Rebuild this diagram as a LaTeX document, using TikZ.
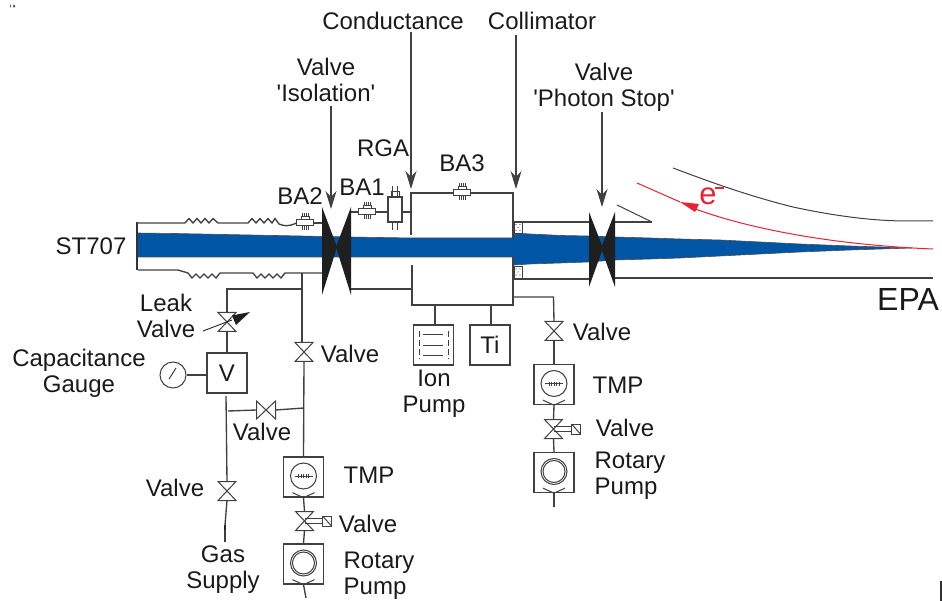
\documentclass[tikz,border=0pt]{standalone}
\usepackage{fontspec}
\setmainfont{Liberation Sans}
\newfontfamily\rawf{Liberation Sans}
\usetikzlibrary{arrows.meta}
\definecolor{ln}{HTML}{404040}
\definecolor{beam}{HTML}{0055A5}
\definecolor{redl}{HTML}{EE2030}
\definecolor{txt}{HTML}{1A1A1A}
\tikzset{
 gl/.style={draw=ln,line width=1.35pt},
 thin gl/.style={draw=ln,line width=1pt},
 lab/.style={font=\fontsize{24}{24}\selectfont,text=txt,inner sep=0pt,align=center},
 boxn/.style={gl,fill=white,minimum size=40pt,inner sep=0pt,font=\fontsize{24}{24}\selectfont,text=txt},
 hold/.style={inner sep=0pt,outer sep=0pt,minimum width=18pt,minimum height=19pt},
 hhold/.style={inner sep=0pt,outer sep=0pt,minimum width=19pt,minimum height=18pt},
 gauge/.style={inner sep=0pt,outer sep=0pt,minimum width=17pt,minimum height=6pt},
 dn/.style={-{Stealth[length=18pt,width=11pt]},gl},
 blacktri/.style={fill=black!88,draw=none},
 dotbox/.style={draw=ln,line width=.6pt,fill=white},
}
% vertical-flow valve, open bow tie
\newcommand\VV[2]{\node[hold] (#1) at (#2) {};
 \draw[thin gl] (#1.north west)--(#1.south east)--(#1.south west)--(#1.north east)--cycle;}
% horizontal-flow valve
\newcommand\HV[2]{\node[hhold] (#1) at (#2) {};
 \draw[thin gl] (#1.north west)--(#1.south east)--(#1.north east)--(#1.south west)--cycle;}
% valve with actuator
\newcommand\AV[2]{\VV{#1}{#2}
 \draw[thin gl] ([yshift=2.5pt]#1.center)--++(18,0) ([yshift=-2.5pt]#1.center)--++(18,0);
 \draw[thin gl,fill=white] ([xshift=18pt,yshift=-5pt]#1.center) rectangle ([xshift=27pt,yshift=5pt]#1.center);
 \draw[thin gl] ([xshift=18pt,yshift=5pt]#1.center)--([xshift=27pt,yshift=-5pt]#1.center);}
% ion gauge
\newcommand\BA[2]{\node[gauge] (#1) at (#2) {};
 \draw[thin gl,fill=white] (#1.south west) rectangle (#1.north east);
 \draw[thin gl] ([xshift=-4pt]#1.north) rectangle ([xshift=4pt,yshift=3pt]#1.north);
 \foreach \dx in {-3,-1,1,3} {\draw[draw=ln,line width=.7pt] ([xshift=\dx pt]#1.south)--++(0,4);
  \draw[draw=ln,line width=.7pt] ([xshift=\dx pt,yshift=3pt]#1.north)--++(0,-4);}}
\newcommand\TMP[2]{\node[boxn] (#1) at (#2) {};
 \draw[thin gl] ([yshift=1pt]#1.center) circle (13pt);
 \draw[thin gl] ([xshift=-9pt,yshift=1pt]#1.center)--([xshift=9pt,yshift=1pt]#1.center);
 \foreach \dx in {-5,-2.5,0,2.5,5} \draw[draw=ln,line width=.8pt] ([xshift=\dx pt,yshift=3pt]#1.center)--++(0,4);
 \draw[thin gl] ([xshift=-11pt,yshift=5pt]#1.south)--(#1.south)--([xshift=11pt,yshift=5pt]#1.south);}
\newcommand\ROT[2]{\node[boxn] (#1) at (#2) {};
 \draw[thin gl] ([yshift=1pt]#1.center) circle (13pt);
 \draw[thin gl] ([yshift=1pt]#1.center) circle (11pt);
 \draw[thin gl] ([xshift=-11pt,yshift=5pt]#1.south)--(#1.south)--([xshift=11pt,yshift=5pt]#1.south);}
\begin{document}
\begin{tikzpicture}[x=1pt,y=-1pt]
\useasboundingbox (0,0) rectangle (942,601);

% stray marks of the original
\fill[black!60] (10,5) rectangle (11,7.5) (13,5) rectangle (15,7.5);
\draw[black!80,line width=1.2pt] (941,581)--(941,601);

% beam
\fill[beam,draw=black!70,line width=.6pt] (137,233)--(175,233.5)--(250,235)--(350,237)--(411,238)--(513,238)
 --(514,233)--(530,234)--(562,235.5)--(588,236)--(615,237)--(650,238)--(680,239)--(720,240)--(760,242)
 --(800,244)--(850,246)--(912,248)--(850,250)--(800,252)--(760,254)--(720,256)--(680,258)--(650,259)--(615,260)
 --(588,262)--(560,263)--(530,264)--(514,265)--(513,257)--(137,257)--cycle;
\draw[black!80,line width=1.4pt] (137,222)--(137,270);

% upper and lower beam pipe
\coordinate (tl) at (137,223);
\coordinate (bl) at (138,270);
\BA{ba2}{305,223}
\BA{ba1}{367,212}
\BA{ba3}{462,193}
\draw[gl] (tl)--(185,223)--(189,218.5)--(193,223)--(197,218.5)--(201,223)--(205,218.5)--(209,223)--(213,218.5)--(218,223)
 --(248,223)--(252,218.5)--(256,223)--(260,218.5)--(264,223)--(268,218.5)--(272,223)--(275,218.5)--(279,224)
 .. controls (284,226) and (288,227) .. (ba2.west);
\draw[gl] (bl)--(178,270)--(188,273)--(192,278)--(196,274)--(200,278)--(204,274)--(208,278)--(212,274)--(216,278)--(220,273)
 --(253,273)--(257,278)--(261,274)--(265,278)--(269,274)--(273,278)--(277,274)--(281,278)--(285,273)--(322,273);
\draw[gl] (ba2.east)--(322,223);

% RGA
\node[gl,fill=white,minimum width=14pt,minimum height=25pt,inner sep=0pt] (rga) at (395,209.5) {};
\foreach \dx in {-2.5,2.5} {\draw[thin gl] ([xshift=\dx pt]rga.north)--++(0,-10);
 \draw[thin gl] ([xshift=\dx pt]rga.south)--++(0,7);}
\draw[thin gl] ([xshift=-4pt]rga.north)--++(0,-5)--++(8,0)--++(0,5);
\coordinate (isoA) at (351,212);
\coordinate (chamL) at (411,212);
\draw[gl] (isoA)--(ba1.west) (ba1.east)--(rga.west|-ba1.east) (rga.east|-chamL)--(chamL);

% chamber
\draw[gl] (411,235)--(411,193)--(ba3.west) (ba3.east)--(513,193)--(513,238);
\draw[gl] (412,265)--(412,305)--(513,305)--(513,257);
\draw[gl] (351,289)--(412,289);

% collimator
\draw[dotbox] (514,222) rectangle (522,233);
\draw[dotbox] (514,266) rectangle (522,278);
\foreach \p in {(516,224.5),(520,224.5),(518,227.5),(516,230.5),(520,230.5),(516,269),(520,269),(518,272),(516,275),(520,275)}
 \fill[black!70] \p circle (.7pt);
\draw[gl] (513,222)--(589,222) (513,279)--(589,279);
\draw[gl] (615,222)--(652,222);
\draw[thin gl] (617,205)--(652,222);
\draw[gl] (615,278)--(933,278);

% valves in the beam line
\fill[blacktri] (322,207)--(337,247)--(322,295)--cycle;
\fill[blacktri] (351,207)--(336,247)--(351,295)--cycle;
\fill[blacktri] (589,212)--(603,248)--(589,287)--cycle;
\fill[blacktri] (615,212)--(601,248)--(615,287)--cycle;

% walls, electron path
\draw[thin gl] (673,168)..controls (705,180) and (745,195) .. (793,207)
 ..controls (830,215) and (870,221) .. (907,221)--(933,221);
\draw[redl,line width=1pt] (933,249)..controls (860,246) and (780,236) .. (713,215)--(695,209);
\fill[redl] (680,202)--(699,204)--(695,212)--cycle;
\draw[redl,line width=1pt] (680,202)--(637,183);
\node[font=\fontsize{31}{31}\selectfont,text=redl,inner sep=0pt] (el) at (708,196) {e};
\draw[redl,line width=2.4pt] (715,188)--(724,188);

% labelled arrows
\coordinate (a1) at (411,32); \coordinate (a1t) at (411,189);
\coordinate (a2) at (516,35); \coordinate (a2t) at (516,189);
\coordinate (a3) at (331,106); \coordinate (a3t) at (331,209);
\coordinate (a4) at (602,112); \coordinate (a4t) at (602,207);
\draw[dn] (a1)--(a1t); \draw[dn] (a2)--(a2t); \draw[dn] (a3)--(a3t); \draw[dn] (a4)--(a4t);

% left pumping branch
\coordinate (j1) at (302,273);
\coordinate (j2) at (302,289);
\coordinate (j3) at (227,289);
\VV{lv}{227,322}
\node[boxn] (vb) at (227,373) {V};
\node[draw=ln,line width=1pt,circle,fill=white,minimum size=26pt,inner sep=0pt] (cg) at (173,375) {};
\draw[thin gl] (169,379)--(176,368);
\draw[gl] (j1)--(j2)--(j3)--(lv.north);
\draw[gl] (lv.south)--(vb.north);
\draw[gl] (cg.east)--(cg.east-|vb.west);
\draw[draw=black!85,line width=.9pt] (203,331)--(232,320);
\fill[black!88] (250,312)--(232,315.5)--(236,325)--cycle;

\VV{pv}{304,352}
\draw[gl] (302,289)--(pv.north -| 302,0);
\HV{hv}{266,410}
\VV{gv}{227,491}
\coordinate (gtop) at (226,396);
\coordinate (gt) at (225,525);
\coordinate (ge) at (225,542);
\coordinate (hl) at (228,411);
\coordinate (hr) at (304,408);
\draw[gl] (gtop)--(gv.north);
\draw[gl] (gv.south)--(gt);
\draw[draw=black!85,line width=2.6pt] (gt)--(225,530);
\draw[gl] (225,530)--(ge);
\draw[gl] (hl)--(hv.west);
\draw[gl] (hv.east)--(hr);
\TMP{t1}{303.5,477}
\AV{av1}{304.5,521}
\ROT{r1}{303.5,564}
\coordinate (r1e) at (306,598);
\draw[gl] (pv.south)--(t1.north);
\draw[gl] (t1.south)--(av1.north);
\draw[gl] (av1.south)--(r1.north);
\draw[gl] (r1.south)--(r1e);

% chamber pumps
\node[boxn] (ion) at (433.5,345) {};
\node[boxn] (ti) at (490,345) {Ti};
\coordinate (i0) at (435,305);
\coordinate (t0) at (491,305);
\draw[gl] (i0)--(ion.north -| i0);
\draw[gl] (t0)--(ti.north -| t0);
\foreach \yy in {335,346,356} \draw[thin gl] (423,\yy)--(443,\yy);
\draw[thin gl,dash pattern=on 6pt off 3pt] (419,331)--(419,359);
\draw[thin gl,dash pattern=on 6pt off 3pt] (448,331)--(448,359);

% right pumping branch
\coordinate (c1) at (513,297);
\coordinate (c2) at (553.5,297);
\VV{rv}{554,331}
\TMP{t2}{554,384.5}
\AV{av2}{553.5,429}
\ROT{r2}{554,472.5}
\coordinate (r2e) at (554,507);
\draw[gl] (c1)--(c2)--(rv.north);
\draw[gl] (rv.south)--(t2.north);
\draw[gl] (t2.south)--(av2.north);
\draw[gl] (av2.south)--(r2.north);
\draw[gl] (r2.south)--(r2e);

% text
\node[lab] (tCond) at (393,21) {Conductance};
\node[lab] (tColl) at (542,21) {Collimator};
\node[lab] (tVI) at (326,80) {Valve\\[2pt]{\rawf 'Isolation'}};
\node[lab] (tVP) at (604,87) {Valve\\[2pt]{\rawf 'Photon Stop'}};
\node[lab] (tRGA) at (383,148) {RGA};
\node[lab] (tBA3) at (462,163) {BA3};
\node[lab] (tBA2) at (300,196) {BA2};
\node[lab] (tBA1) at (362,187) {BA1};
\node[lab] (tST) at (91,246) {ST707};
\node[lab] (tLeak) at (166,316) {Leak\\[2pt]Valve};
\node[lab] (tCap) at (79,373) {Capacitance\\[2pt]Gauge};
\node[lab] (tV1) at (350,354) {Valve};
\node[lab] (tV2) at (262,432) {Valve};
\node[lab] (tV3) at (175,488) {Valve};
\node[lab] (tT1) at (369,475) {TMP};
\node[lab] (tV4) at (368,524) {Valve};
\node[lab,align=left] (tR1) at (379,576) {Rotary\\[2pt]Pump};
\node[lab] (tGas) at (223,570) {Gas\\[2pt]Supply};
\node[lab] (tIon) at (434,394) {Ion\\[2pt]Pump};
\node[lab] (tV5) at (602,332) {Valve};
\node[lab] (tT2) at (618,385) {TMP};
\node[lab] (tV6) at (625,428) {Valve};
\node[lab,align=left] (tR2) at (630,476) {Rotary\\[2pt]Pump};
\node[font=\fontsize{32}{32}\selectfont,text=txt,inner sep=0pt] (tEPA) at (908,299) {EPA};
\end{tikzpicture}
\end{document}
